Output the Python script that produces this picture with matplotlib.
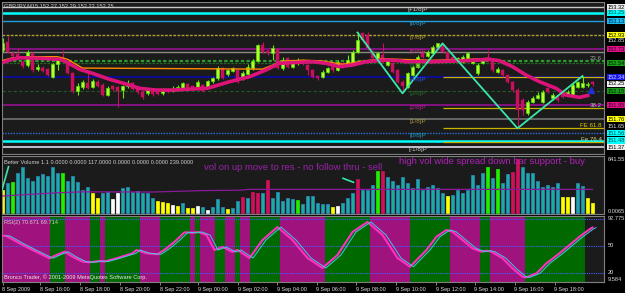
import matplotlib
matplotlib.use("Agg")
import matplotlib.pyplot as plt
from matplotlib.transforms import blended_transform_factory
import numpy as np

plt.rcParams['font.family'] = ['Liberation Sans', 'DejaVu Sans']

# ---------------- data ----------------
OPEN = [152.721,152.837,152.684,152.665,152.558,152.512,152.679,152.452,152.475,152.457,
        152.349,152.526,152.628,152.540,152.401,152.150,152.210,152.266,152.210,152.280,
        152.234,152.094,152.220,152.206,152.164,152.220,152.262,152.178,152.140,152.122,
        152.154,152.140,152.118,152.164,152.157,152.171,152.192,152.248,152.220,152.202,
        152.234,152.210,152.289,152.327,152.470,152.383,152.433,152.443,152.327,152.383,
        152.466,152.572,152.791,152.711,152.675,152.731,152.466,152.606,152.489,152.547,
        152.558,152.512,152.443,152.359,152.349,152.419,152.480,152.443,152.536,152.512,
        152.536,152.697,152.954,152.930,152.697,152.606,152.652,152.512,152.536,152.443,
        152.280,152.210,152.373,152.489,152.675,152.638,152.675,152.759,152.791,152.697,
        152.628,152.572,152.558,152.606,152.544,152.397,152.544,152.606,152.582,152.419,
        152.443,152.373,152.275,152.164,152.025,151.840,152.001,152.048,152.001,152.188,
        152.048,152.071,152.118,152.094,152.094,152.210,152.210,152.234,152.270]
HIGH = [152.888,152.916,152.707,152.749,152.582,152.721,152.693,152.526,152.498,152.470,
        152.540,152.596,152.721,152.568,152.415,152.262,152.303,152.401,152.317,152.303,
        152.262,152.220,152.234,152.220,152.234,152.303,152.275,152.220,152.164,152.178,
        152.178,152.164,152.192,152.178,152.220,152.234,152.275,152.262,152.234,152.303,
        152.248,152.303,152.345,152.498,152.484,152.457,152.484,152.457,152.429,152.526,
        152.596,152.805,152.837,152.735,152.791,152.749,152.628,152.624,152.568,152.610,
        152.582,152.526,152.457,152.373,152.443,152.484,152.498,152.582,152.554,152.652,
        152.721,152.968,152.958,152.976,152.721,152.693,152.814,152.610,152.554,152.457,
        152.303,152.415,152.512,152.652,152.693,152.721,152.791,152.800,152.814,152.721,
        152.652,152.624,152.652,152.693,152.610,152.540,152.610,152.721,152.596,152.484,
        152.457,152.387,152.289,152.192,152.053,152.025,152.080,152.140,152.164,152.206,
        152.122,152.094,152.136,152.164,152.262,152.290,152.359,152.275,152.290]
LOW = [152.693,152.679,152.624,152.582,152.470,152.484,152.415,152.429,152.415,152.359,
       152.331,152.443,152.568,152.387,152.122,152.094,152.178,152.178,152.192,152.206,
       152.080,152.080,152.150,151.931,152.053,152.192,152.164,152.108,152.039,152.094,
       152.080,152.094,152.094,152.122,152.136,152.150,152.164,152.178,152.164,152.178,
       152.136,152.192,152.262,152.303,152.317,152.359,152.415,152.262,152.303,152.373,
       152.443,152.554,152.679,152.652,152.582,152.457,152.443,152.470,152.470,152.512,
       152.512,152.373,152.331,152.303,152.331,152.401,152.415,152.429,152.470,152.498,
       152.526,152.679,152.833,152.721,152.582,152.582,152.540,152.498,152.401,152.262,
       152.118,152.192,152.359,152.470,152.610,152.624,152.652,152.749,152.679,152.568,
       152.568,152.554,152.540,152.582,152.526,152.373,152.526,152.554,152.415,152.401,
       152.345,152.262,152.136,151.631,151.816,151.816,151.983,152.039,151.983,152.122,
       152.025,152.001,152.053,152.080,152.080,152.192,152.192,152.206,152.220]
CLOSE = [152.823,152.697,152.638,152.610,152.498,152.693,152.443,152.489,152.433,152.373,
         152.526,152.582,152.582,152.401,152.154,152.220,152.275,152.196,152.289,152.224,
         152.094,152.196,152.178,152.154,152.220,152.262,152.178,152.136,152.071,152.164,
         152.108,152.108,152.157,152.143,152.178,152.206,152.262,152.192,152.185,152.280,
         152.154,152.289,152.331,152.475,152.331,152.443,152.470,152.280,152.405,152.489,
         152.572,152.791,152.697,152.675,152.745,152.466,152.582,152.489,152.544,152.561,
         152.536,152.443,152.341,152.327,152.419,152.466,152.443,152.558,152.489,152.582,
         152.697,152.860,152.860,152.745,152.606,152.675,152.558,152.582,152.419,152.280,
         152.220,152.397,152.489,152.628,152.628,152.697,152.767,152.814,152.697,152.582,
         152.592,152.606,152.628,152.679,152.582,152.512,152.592,152.572,152.443,152.452,
         152.373,152.275,152.164,151.885,151.885,152.001,152.048,152.094,152.140,152.140,
         152.094,152.025,152.071,152.140,152.234,152.280,152.257,152.248,152.250]

MA_BARS = [0, 1.4, 3.4, 7.4, 11.4, 12.7, 15.4, 18.0, 21.4, 24.7, 27.4, 30.7, 34.0, 38.0, 41.0,
           45.4, 49.4, 52.7, 55.4, 59.4, 62.0, 64.7, 67.4, 70.0, 72.7, 76.7, 79.4, 80.7, 86.0,
           92.7, 97.4, 99.4, 102.0, 104.7, 107.4, 110.7, 112.7, 115.4, 117.4]
MA_VALS = [152.544, 152.582, 152.614, 152.606, 152.592, 152.558, 152.452, 152.397, 152.313,
           152.248, 152.188, 152.164, 152.164, 152.178, 152.188, 152.280, 152.349, 152.443,
           152.536, 152.550, 152.558, 152.536, 152.489, 152.512, 152.558, 152.582, 152.572,
           152.558, 152.558, 152.572, 152.592, 152.572, 152.489, 152.373, 152.280, 152.188,
           152.094, 152.062, 152.094]
FAST_BARS = [0, 2, 5, 11, 13, 16, 52, 56, 60, 64, 68, 72, 76, 80, 86, 92, 97, 100]
FAST_VALS = [152.575, 152.612, 152.628, 152.628, 152.592, 152.470, 152.455, 152.566, 152.580,
             152.568, 152.522, 152.566, 152.600, 152.590, 152.578, 152.588, 152.604, 152.560]

ZZ_BARS = [71, 80, 88, 103, 116]
ZZ_VALS = [152.965, 152.118, 152.814, 151.631, 152.359]

MURREY_PRICES = [153.320, 153.125, 152.930, 152.734, 152.539, 152.344, 152.148, 151.953,
                 151.758, 151.5625, 151.367]
MURREY_NAMES = ["[+1/8]P", "[8/8]P", "[7/8]P", "[6/8]P", "[5/8]P", "[4/8]P", "[3/8]P",
                "[2/8]P", "[1/8]P", "[0/8]P", "[-1/8]P"]
EXTRA_PRICES = [153.240, 152.690, 152.575, 151.460]   # cyan R, grey, green 23.6, cyan S
FIB_PRICES = [152.345, 151.909, 151.631, 151.436]
FIB_START = 88
FIB_NAMES = ["", "38.2", "FE 61.8", "Fe 76.4"]

AXIS_PRICES = [153.32, 153.24, 153.125, 152.93, 152.85, 152.734, 152.539, 152.344, 152.25,
               152.148, 151.953, 151.758, 151.65, 151.5625, 151.46, 151.367]
AXIS_TEXT = ["153.32", "153.25", "153.13", "152.93", "152.85", "152.73", "152.54", "152.34",
             "152.25", "152.15", "151.95", "151.76", "151.65", "151.56", "151.48", "151.37"]

VOLUME = [257,333,351,452,520,389,359,415,438,415,
          514,446,452,362,415,344,257,294,226,163,
          226,238,152,219,276,294,238,249,226,219,
          163,136,124,113,87,76,106,50,50,76,
          61,36,70,152,68,38,57,132,181,163,
          238,219,226,370,163,231,136,163,152,144,
          95,189,189,106,98,98,68,76,106,163,
          219,378,257,257,313,475,475,407,359,313,
          400,333,276,378,257,287,313,276,219,189,
          200,257,226,257,426,313,446,520,389,491,
          333,438,464,604,520,452,446,362,294,313,
          294,333,181,181,181,333,302,163,113]
VOL_TYPE = ("ytgttttttttt" "gtttttyyttww" "tttttttyyywy" "tyywtwtttytt" "rtrrtrtttttg"
            "ttttttywtttr" "tttgrttttttt" "tttttytttttt" "tgtgttrrtttt" "ttttyywttyy")
VMA_BARS = [0, 11, 16, 30, 40, 48, 49, 118]
VMA_VALS = [189, 226, 236, 234, 250, 255, 264, 264]
VZZ_BARS = [[-0.2, 1.2], [68.1, 70.2]]
VZZ_VALS = [[238, 520], [389, 344]]

RSI_BARS = [0, 0.8, 3.4, 6.0, 9.4, 10.8, 12.4, 14.0, 16.0, 17.4, 19.4, 20.4, 22.8, 26.0, 26.8,
            28.8, 31.0, 32.8, 34.8, 36.4, 38.0, 39.2, 40.8, 42.4, 44.0, 46.0, 47.0, 49.4, 52.0,
            55.0, 58.0, 61.0, 64.0, 67.0, 70.0, 73.0, 76.0, 79.0, 81.5, 84.8, 86.8, 88.8, 90.0,
            92.0, 94.0, 95.8, 96.8, 97.8, 100.0, 102.0, 104.0, 104.8, 106.8, 108.8, 111.4,
            113.4, 115.4, 117.4, 118]
RSI_VALS = [61.6, 61.2, 53.0, 45.5, 36.2, 39.9, 43.6, 38.0, 32.4, 31.7, 33.1, 32.5, 36.2, 41.8,
            45.5, 41.8, 40.7, 47.4, 56.7, 65.4, 64.9, 65.7, 62.4, 45.5, 48.9, 43.3, 45.5, 36.5,
            56.7, 71.3, 56.7, 36.5, 25.3, 39.9, 65.7, 77.0, 62.4, 36.5, 26.7, 45.5, 60.4, 68.0,
            66.1, 56.7, 47.4, 43.6, 44.7, 43.6, 36.2, 24.9, 15.5, 14.8, 19.3, 30.6, 41.8, 51.1,
            60.4, 68.8, 70.7]
RSI_SPANS = [(-0.5, 9.5, 'p'), (9.5, 12.5, 'g'), (12.5, 17.5, 'p'), (17.5, 19.5, 'g'),
             (19.5, 20.5, 'p'), (20.5, 27.5, 'g'), (27.5, 31.5, 'p'), (31.5, 37.5, 'g'),
             (37.5, 38.5, 'p'), (38.5, 39.5, 'g'), (39.5, 42.5, 'p'), (42.5, 44.5, 'g'),
             (44.5, 46.5, 'p'), (46.5, 47.5, 'g'), (47.5, 49.5, 'p'), (49.5, 55.5, 'g'),
             (55.5, 64.5, 'p'), (64.5, 73.5, 'g'), (73.5, 81.5, 'p'), (81.5, 89.5, 'g'),
             (89.5, 95.5, 'p'), (95.5, 97.5, 'g'), (97.5, 104.5, 'p'), (104.5, 116.5, 'g')]
RSI_LEVELS = [80, 50, 20]

TICK_BARS = [0, 7.4, 15.4, 23.4, 31.4, 39.0, 47.0, 54.9, 62.8, 70.7, 78.6, 86.6, 94.4, 102.4, 110.4]
TICK_LABELS = ["8 Sep 2009", "8 Sep 16:00", "8 Sep 18:00", "8 Sep 20:00", "8 Sep 22:00",
               "9 Sep 00:00", "9 Sep 02:00", "9 Sep 04:00", "9 Sep 06:00", "9 Sep 08:00",
               "9 Sep 10:00", "9 Sep 12:00", "9 Sep 14:00", "9 Sep 16:00", "9 Sep 18:00"]

SIGNAL_BAR = [117.6]
SIGNAL_PRICE = [152.17]

# ---------------- figure ----------------
W, H = 625, 293
fig = plt.figure(figsize=(W / 100, H / 100), dpi=100, facecolor='#000000')

def rect(x0, y0, x1, y1):
    return [x0 / W, 1 - y1 / H, (x1 - x0) / W, (y1 - y0) / H]

def fx(x):
    return x / W

def fy(y):
    return 1 - y / H

BG = '#1b1b1b'
ax = fig.add_axes(rect(2, 2, 604, 154))
axv = fig.add_axes(rect(2, 156, 604, 214), sharex=ax)
axr = fig.add_axes(rect(2, 216, 604, 282), sharex=ax)
for a in (ax, axv, axr):
    a.set_facecolor(BG)
    for s in a.spines.values():
        s.set_color('#808080')
        s.set_linewidth(0.8)
    a.tick_params(left=False, right=False, labelleft=False, bottom=False, labelbottom=False)
ax.set_xlim(-0.1, 120.3)
ax.set_ylim(151.273, 153.390)
axv.set_ylim(-14.7, 641.5)
axr.set_ylim(9.55, 83.7)

FS = 4.1
# ---- price levels ----
mur_colors = ['#c8c8c8', '#1e9fe0', '#b4a030', '#a010a0', '#1f6a1f', '#0a0ab8', '#1f5a1f',
              '#a010a0', '#7a7a7a', '#2a70e0', '#c0c0cc']
mur_styles = ['-', '-', (0, (2, 1)), '-', (0, (2, 1)), '-', (0, (3, 2)), '-', '-', (0, (1, 1)), '-']
mur_lw = [1.0, 1.0, 1.0, 1.1, 0.9, 1.1, 0.8, 1.1, 1.1, 1.0, 1.4]
mur_txt = ['#c8c8c8', '#2aa0d8', '#b4a030', '#c03585', '#2a7a2a', '#3050ff', '#2a6a2a',
           '#c020a0', '#a89840', '#20a0c0', '#c8c8c8']
for p, col, ls, lw in zip(MURREY_PRICES, mur_colors, mur_styles, mur_lw):
    ax.axhline(p, color=col, ls=ls, lw=lw, zorder=1)
extra_cols = ['#00ffff', '#8a8a80', '#2c9a2c', '#00ffff']
extra_ls = ['-', '-', (0, (1.5, 1)), '-']
extra_lw = [1.8, 1.0, 1.6, 1.8]
for p, col, ls, lw in zip(EXTRA_PRICES, extra_cols, extra_ls, extra_lw):
    ax.axhline(p, color=col, ls=ls, lw=lw, zorder=1)
for p in FIB_PRICES:
    ax.hlines(p, FIB_START, 120.3, color='#c8b400', lw=0.9, zorder=1)

for p, name, col in zip(MURREY_PRICES, MURREY_NAMES, mur_txt):
    ax.text(83, p, name, color=col, fontsize=4.6, ha='center', va='top', zorder=5)
fib_txt_cols = ['#a0a0a0', '#b8b8b8', '#e0d000', '#d8d880']
for p, name, col in zip([EXTRA_PRICES[2]] + FIB_PRICES[1:], ["23.6"] + FIB_NAMES[1:], fib_txt_cols):
    ax.text(119.9, p, name, color=col, fontsize=4.4, ha='right', va='bottom', zorder=5)

# ---- candles ----
o = np.array(OPEN); h = np.array(HIGH); l = np.array(LOW); c = np.array(CLOSE)
x = np.arange(len(c))
up = c >= o
lo = np.minimum(o, c)
hh = np.maximum(np.abs(c - o), 0.012)
ax.vlines(x[up], l[up], h[up], color='#66ee00', lw=0.8, zorder=2)
ax.vlines(x[~up], l[~up], h[~up], color='#c8105e', lw=0.8, zorder=2)
ax.bar(x[up], hh[up], bottom=lo[up], width=0.62, color='#b4ff30', edgecolor='#55e000', lw=0.5, zorder=2)
ax.bar(x[~up], hh[~up], bottom=lo[~up], width=0.62, color='#c8105e', edgecolor='#c8105e', lw=0.3, zorder=2)

ax.plot(FAST_BARS, FAST_VALS, color='#ff8c00', lw=1.0, zorder=3)
ax.plot(MA_BARS, MA_VALS, color='#dc147a', lw=2.6, zorder=3, solid_capstyle='butt')
ax.plot(ZZ_BARS, ZZ_VALS, color='#3be6a8', lw=1.3, zorder=4)
ax.plot(SIGNAL_BAR, SIGNAL_PRICE, marker='^', ms=4, color='#2030d0', ls='none', zorder=5)

# ---- right axis labels (price) ----
tr = blended_transform_factory(ax.transAxes, ax.transData)
box_bg = ['#e8e8e8', '#00ffff', '#18b8f0', '#ffff00', None, '#e0108a', '#1a9a1a', '#1a1aee',
          '#f0f0f0', '#1a9a1a', '#e0108a', '#ffff00', None, '#00ffff', '#00ffff', '#f0f0f0']
box_fg = ['#000000', '#004848', '#002a48', '#000000', '#e0e0e0', '#300018', '#002000', '#d0d0ff',
          '#000000', '#002000', '#300018', '#000000', '#e0e0e0', '#004848', '#004848', '#000000']
for p, t, bg, fg in zip(AXIS_PRICES, AXIS_TEXT, box_bg, box_fg):
    kw = {}
    if bg is not None:
        kw['bbox'] = dict(boxstyle='square,pad=0.12', fc=bg, ec='none')
    ax.text(1.0065, p, t, transform=tr, fontsize=FS, color=fg, ha='left', va='center',
            clip_on=False, zorder=6, **kw)

# ---- volume ----
vcol = {'t': '#1aae9f', 'y': '#ffff00', 'w': '#ffffff', 'g': '#22ee00', 'r': '#d0105a'}
vedge = {'t': '#2f86c8', 'y': '#ffff00', 'w': '#ffffff', 'g': '#22ee00', 'r': '#d0105a'}
axv.bar(x, VOLUME, width=0.6, color=[vcol[k] for k in VOL_TYPE],
        edgecolor=[vedge[k] for k in VOL_TYPE], lw=0.5, zorder=2)
axv.plot(VMA_BARS, VMA_VALS, color='#8a1a9a', lw=0.9, zorder=3)
for bb, vv in zip(VZZ_BARS, VZZ_VALS):
    axv.plot(bb, vv, color='#3be6a8', lw=1.2, zorder=4)
axv.text(40.4, 513, "vol on up move to res - no follow thru - sell", color='#9a22aa',
         fontsize=6.8, ha='left', va='center', zorder=5)
axv.text(79.3, 575, "high vol wide spread down bar support - buy", color='#b020b8',
         fontsize=6.8, ha='left', va='center', zorder=5)
axv.text(1.0065, 0.99, "641.55", transform=axv.transAxes, fontsize=FS, color='#e0e0e0',
         ha='left', va='top', clip_on=False)
axv.text(1.0065, 0.0, "0.0065", transform=axv.transAxes, fontsize=FS, color='#e0e0e0',
         ha='left', va='bottom', clip_on=False)

# ---- RSI ----
for s0, s1, k in RSI_SPANS:
    axr.axvspan(s0, s1, color='#a0127e' if k == 'p' else '#006a00', lw=0, zorder=1)
for lv in RSI_LEVELS:
    axr.axhline(lv, color='#4060ff', ls=(0, (1, 1)), lw=0.8, zorder=2)
axr.plot(RSI_BARS, RSI_VALS, color='#ff30c0', lw=1.5, zorder=3)
axr.plot(np.array(RSI_BARS) + 0.7, RSI_VALS, color='#40c8e0', lw=0.7, zorder=4)
tr2 = blended_transform_factory(axr.transAxes, axr.transData)
axr.text(1.0065, 1.0, "92.775", transform=axr.transAxes, fontsize=FS, color='#e0e0e0',
         ha='left', va='top', clip_on=False)
axr.text(1.0065, 0.0, "9.584", transform=axr.transAxes, fontsize=FS, color='#e0e0e0',
         ha='left', va='bottom', clip_on=False)
for lv in (50, 20):
    axr.text(1.0065, lv, str(lv), transform=tr2, fontsize=FS, color='#e0e0e0',
             ha='left', va='center', clip_on=False)

axr.set_xticks(TICK_BARS)
axr.set_xticklabels(TICK_LABELS, ha='left', fontsize=4.0, color='#e0e0e0')
axr.tick_params(axis='x', bottom=True, labelbottom=True, length=2.5, width=0.6,
                color='#a0a0a0', pad=1.2)

# ---- window texts ----
fig.text(fx(4), fy(5.5), "GBPJPY,M15 152.27 152.29 152.22 152.25", fontsize=4.1,
         color='#d0d0d0', va='center', ha='left')
fig.text(fx(4), fy(162), "Better Volume 1.1 0.0000 0.0000 117.0000 0.0000 0.0000 0.0000 239.0000",
         fontsize=4.1, color='#d0d0d0', va='center', ha='left')
fig.text(fx(4), fy(222.5), "RSI(2) 70.671 69.714", fontsize=4.1, color='#d0d0d0',
         va='center', ha='left')
fig.text(fx(4), fy(277.3), "Bronco Trader, © 2001-2009 MetaQuotes Software Corp.", fontsize=4.1,
         color='#e8e8e8', va='center', ha='left')

fig.savefig("out.png", dpi=100, facecolor=fig.get_facecolor())
